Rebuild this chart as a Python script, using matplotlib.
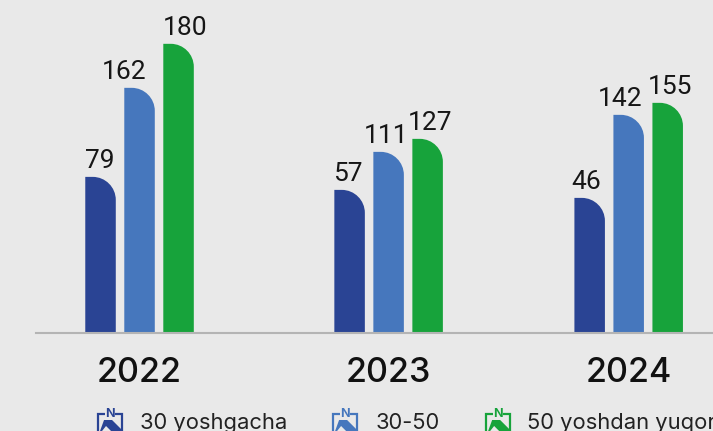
import numpy as np
import matplotlib.pyplot as plt
from matplotlib.patches import PathPatch, Rectangle, Polygon
from matplotlib.path import Path

plt.rcParams['font.family'] = ['Inter', 'DejaVu Sans']

# Data
years = ['2022', '2023', '2024']
series_names = ['30 yoshgacha', '30-50', '50 yoshdan yuqori']
under_30 = [79, 57, 46]
from_30_to_50 = [162, 111, 142]
over_50 = [180, 127, 155]

# Bars in the picture are not to scale with their labels, so heights are read off it
under_30_heights = [156, 143, 135]
from_30_to_50_heights = [245, 181, 218]
over_50_heights = [289, 194, 230]

colors = ['#2a4494', '#4677bd', '#17a33b']
bg = '#e9e9e9'

W, H = 713, 431
BASE = 333

# the small extra stops the pixel size rounding down to 430
fig = plt.figure(figsize=((W + 0.2) / 100, (H + 0.2) / 100), dpi=100, facecolor=bg)
ax = fig.add_axes([36 / W, 1 - BASE / H, 1 - 36 / W, BASE / H], facecolor=bg)
ax.set_xlim(36, W)
ax.set_ylim(0, BASE)

group_x = np.array([139.5, 388.5, 628.5])
offset = 39
width = 30.5

# labels sit off centre from their bars in the picture
label_shift = [[-1, -2, -3], [-15, -2, -9], [7, 2, 2]]


def round_top_right(rect, radius=23):
    # swap a plain bar for one with a big rounded top right corner
    x0, y0 = rect.get_x(), rect.get_y()
    x1, y1 = x0 + rect.get_width(), y0 + rect.get_height()
    k = 0.55 * radius
    verts = [(x0, y0), (x0, y1), (x1 - radius, y1),
             (x1 - radius + k, y1), (x1, y1 - radius + k), (x1, y1 - radius),
             (x1, y0), (x0, y0)]
    codes = [Path.MOVETO, Path.LINETO, Path.LINETO,
             Path.CURVE4, Path.CURVE4, Path.CURVE4,
             Path.LINETO, Path.CLOSEPOLY]
    ax.add_patch(PathPatch(Path(verts, codes), fc=rect.get_facecolor(), ec='none', zorder=2))
    rect.remove()


all_values = [under_30, from_30_to_50, over_50]
all_heights = [under_30_heights, from_30_to_50_heights, over_50_heights]

for i in range(3):
    xs = group_x + (i - 1) * offset
    bars = ax.bar(xs, all_heights[i], width=width, color=colors[i])
    for j, (bar, value) in enumerate(zip(list(bars), all_values[i])):
        ax.text(bar.get_x() + bar.get_width() / 2 + label_shift[i][j], bar.get_height() + 4.5, str(value),
                ha='center', va='bottom', fontsize=19, family='Roboto', color='#161616')
        round_top_right(bar)

# Axis
for side in ['top', 'left', 'right']:
    ax.spines[side].set_visible(False)
ax.spines['bottom'].set_color('#b4b4b4')
ax.spines['bottom'].set_linewidth(1.5)
ax.set_yticks([])
ax.set_xticks(group_x)
ax.set_xticklabels(years, fontsize=24.5, fontweight='medium', color='#111111')
ax.tick_params(axis='x', length=0, pad=17.5)


def legend_icon(x, y, color):
    # small house-like marker, 26 px wide, y is the top of its frame
    ax.add_patch(Rectangle((x + 1, y - 20), 24, 20, fill=False, ec=color, lw=1.6, clip_on=False))
    ax.add_patch(Polygon([(x + 7, y - 6), (x + 15, y - 6), (x + 26, y - 17), (x + 3, y - 17)],
                         fc=color, ec='none', clip_on=False))
    ax.add_patch(Polygon([(x + 9, y - 12), (x + 14, y - 17), (x + 5, y - 17)],
                         fc=bg, ec='none', clip_on=False))
    ax.add_patch(Rectangle((x + 8, y - 5), 10, 9, fc=bg, ec='none', clip_on=False))
    ax.text(x + 13, y, 'N', fontsize=9, fontweight='bold', color=color,
            ha='center', va='center', clip_on=False)


legend_x = [97, 332, 485]
text_x = [140, 375, 527]
for i in range(3):
    legend_icon(legend_x[i], -81, colors[i])
    ax.text(text_x[i], -90, series_names[i], fontsize=15.8, color='#222222',
            ha='left', va='center', clip_on=False)

fig.savefig('out.png', dpi=100, facecolor=bg)
